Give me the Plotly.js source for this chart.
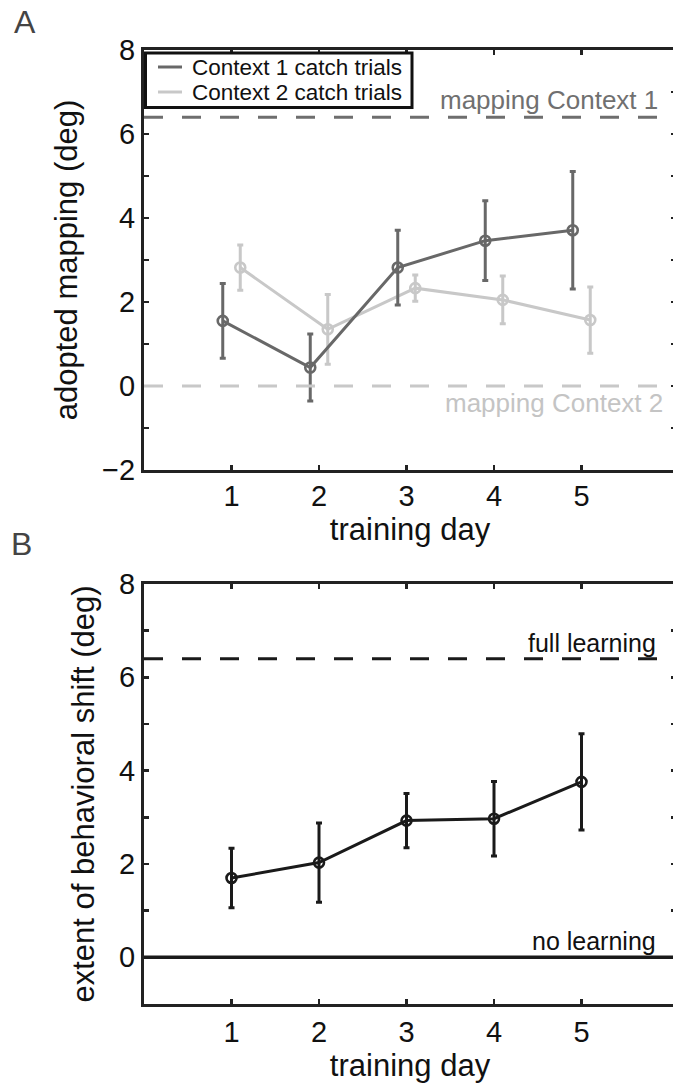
<!DOCTYPE html>
<html>
<head>
<meta charset="utf-8">
<script src="https://cdn.plot.ly/plotly-3.0.1.min.js"></script>
<style>
html,body{margin:0;padding:0;background:#fff;overflow:hidden;}
#chart{width:700px;height:1083px;}
</style>
</head>
<body>
<div id="chart"></div>
<script>
// ---- data ----
const days = [1, 2, 3, 4, 5];
const dayTickLabels = ['1', '2', '3', '4', '5'];
const seriesNames = ['Context 1 catch trials', 'Context 2 catch trials'];
const ctx1Mean = [1.55, 0.44, 2.82, 3.46, 3.71];
const ctx1Err  = [0.89, 0.80, 0.89, 0.95, 1.40];
const ctx2Mean = [2.82, 1.35, 2.33, 2.05, 1.57];
const ctx2Err  = [0.54, 0.83, 0.31, 0.57, 0.79];
const shiftMean = [1.70, 2.03, 2.93, 2.97, 3.76];
const shiftErr  = [0.64, 0.85, 0.58, 0.80, 1.03];
const referenceLevelsA = [6.4, 0];          // mapping Context 1, mapping Context 2
const referenceLabelsA = ['mapping Context 1', 'mapping Context 2'];
const referenceLevelsB = [6.4, 0];          // full learning, no learning
const referenceLabelsB = ['full learning', 'no learning'];
const panelLabels = ['A', 'B'];
const xTitle = 'training day';
const yTitleA = 'adopted mapping (deg)';
const yTitleB = 'extent of behavioral shift (deg)';

// ---- styling ----
const FONT = 'Liberation Sans, Arial, Helvetica, sans-serif';
const C_DARK = '#686868';
const C_LIGHT = '#c8c8c8';
const C_BLACK = '#1a1a1a';
const AX = '#222222';
const offset = 0.1;

const W = 700, H = 1083;
const M = {l: 144, r: 24, t: 50, b: 79};
const plotH = H - M.t - M.b;
const plotW = W - M.l - M.r;
const py = p => (H - M.b - p) / plotH;   // pixel y -> paper y
const px = p => (p - M.l) / plotW;       // pixel x -> paper x

const xDark = days.map(d => d - offset);
const xLight = days.map(d => d + offset);

function lineTrace(x, y, color, xa, ya) {
  return {x: x, y: y, mode: 'lines', showlegend: false,
    line: {color: color, width: 3}, xaxis: xa, yaxis: ya, hoverinfo: 'skip'};
}
function markerTrace(x, y, err, color, xa, ya) {
  return {x: x, y: y, mode: 'markers', showlegend: false,
    marker: {symbol: 'circle-open', size: 10, color: color, line: {color: color, width: 2.6}},
    error_y: {type: 'data', array: err, visible: true, color: color, thickness: 3, width: 3},
    xaxis: xa, yaxis: ya};
}

const data = [
  lineTrace(xLight, ctx2Mean, C_LIGHT, 'x', 'y'),
  markerTrace(xLight, ctx2Mean, ctx2Err, C_LIGHT, 'x', 'y'),
  lineTrace(xDark, ctx1Mean, C_DARK, 'x', 'y'),
  markerTrace(xDark, ctx1Mean, ctx1Err, C_DARK, 'x', 'y'),
  lineTrace(days, shiftMean, C_BLACK, 'x2', 'y2'),
  markerTrace(days, shiftMean, shiftErr, C_BLACK, 'x2', 'y2')
];

const xRange = [0, plotW / 87.5];

function xAxis(anchor, labelShift, titleStandoff) {
  return {
    anchor: anchor, domain: [0, 1], range: xRange,
    tickvals: days, ticktext: dayTickLabels,
    ticks: 'inside', ticklen: 5, tickwidth: 2.5, tickcolor: AX,
    ticklabelstandoff: labelShift,
    showline: true, linewidth: 3, linecolor: AX, mirror: 'allticks',
    showgrid: false, zeroline: false,
    tickfont: {family: FONT, size: 29, color: '#111'},
    title: {text: xTitle, font: {family: FONT, size: 31, color: '#111'}, standoff: titleStandoff}
  };
}
function yAxis(anchor, domain, range, title) {
  return {
    anchor: anchor, domain: domain, range: range,
    tick0: 0, dtick: 2,
    ticks: 'inside', ticklen: 5, tickwidth: 2.5, tickcolor: AX,
    minor: {dtick: 1, tick0: 0, ticks: 'inside', ticklen: 5, tickwidth: 2.5, tickcolor: AX, showgrid: false},
    showline: true, linewidth: 3, linecolor: AX, mirror: 'allticks',
    showgrid: false, zeroline: false,
    tickfont: {family: FONT, size: 29, color: '#111'},
    title: {text: title, font: {family: FONT, size: 31, color: '#111'}, standoff: 16}
  };
}

const domA = [py(470), 1];
const domB = [0, py(584)];

const legendColors = [C_DARK, C_LIGHT];
const legendRowsY = [67, 92];

const shapes = [
  {type: 'line', xref: 'x domain', yref: 'y', x0: 0, x1: 1, y0: referenceLevelsA[0], y1: referenceLevelsA[0],
   line: {color: '#6e6e6e', width: 3, dash: '19px,19px'}},
  {type: 'line', xref: 'x domain', yref: 'y', x0: 0, x1: 1, y0: referenceLevelsA[1], y1: referenceLevelsA[1],
   line: {color: C_LIGHT, width: 3, dash: '19px,19px'}},
  {type: 'line', xref: 'x2 domain', yref: 'y2', x0: 0, x1: 1, y0: referenceLevelsB[0], y1: referenceLevelsB[0],
   line: {color: C_BLACK, width: 3, dash: '19px,19px'}},
  {type: 'line', xref: 'x2 domain', yref: 'y2', x0: 0, x1: 1, y0: referenceLevelsB[1], y1: referenceLevelsB[1],
   line: {color: C_BLACK, width: 3.5}},
  // legend box
  {type: 'rect', xref: 'paper', yref: 'paper', x0: px(145.5), x1: px(412), y0: py(53), y1: py(107.5),
   fillcolor: '#ffffff', line: {color: '#111', width: 3}, layer: 'above'}
];
legendColors.forEach((c, i) => {
  shapes.push({type: 'line', xref: 'paper', yref: 'paper', x0: px(158), x1: px(182),
    y0: py(legendRowsY[i]), y1: py(legendRowsY[i]), line: {color: c, width: 3}, layer: 'above'});
});

const annFont = (c) => ({family: FONT, size: 26, color: c});
const annotations = [
  {xref: 'paper', yref: 'y', x: px(660), y: referenceLevelsA[0], xanchor: 'right', yanchor: 'bottom',
   text: referenceLabelsA[0], showarrow: false, font: annFont('#707070')},
  {xref: 'paper', yref: 'y', x: px(665), y: referenceLevelsA[1], xanchor: 'right', yanchor: 'top',
   text: referenceLabelsA[1], showarrow: false, font: annFont('#c4c4c4')},
  {xref: 'paper', yref: 'y2', x: px(658), y: referenceLevelsB[0], xanchor: 'right', yanchor: 'bottom',
   text: referenceLabelsB[0], showarrow: false, font: {family: FONT, size: 25, color: '#111'}},
  {xref: 'paper', yref: 'y2', x: px(658), y: referenceLevelsB[1], xanchor: 'right', yanchor: 'bottom',
   text: referenceLabelsB[1], showarrow: false, font: {family: FONT, size: 25, color: '#111'}},
  {xref: 'paper', yref: 'paper', x: px(25), y: py(22), xanchor: 'center', yanchor: 'middle',
   text: panelLabels[0], showarrow: false, font: {family: FONT, size: 32, color: '#444'}},
  {xref: 'paper', yref: 'paper', x: px(21), y: py(544), xanchor: 'center', yanchor: 'middle',
   text: panelLabels[1], showarrow: false, font: {family: FONT, size: 32, color: '#444'}}
];
seriesNames.forEach((n, i) => {
  annotations.push({xref: 'paper', yref: 'paper', x: px(190), y: py(legendRowsY[i]),
    xanchor: 'left', yanchor: 'middle', text: n, showarrow: false,
    font: {family: FONT, size: 22.5, color: '#111'}});
});

const layout = {
  width: W, height: H, margin: M,
  paper_bgcolor: '#fff', plot_bgcolor: 'rgba(0,0,0,0)',
  showlegend: false,
  xaxis: xAxis('y', -2, 1),
  yaxis: yAxis('x', domA, [-2, 8], yTitleA),
  xaxis2: xAxis('y2', 0, 4),
  yaxis2: yAxis('x2', domB, [-1, 8], yTitleB),
  shapes: shapes,
  annotations: annotations
};

Plotly.newPlot('chart', data, layout, {staticPlot: true, displayModeBar: false});
</script>
</body>
</html>
